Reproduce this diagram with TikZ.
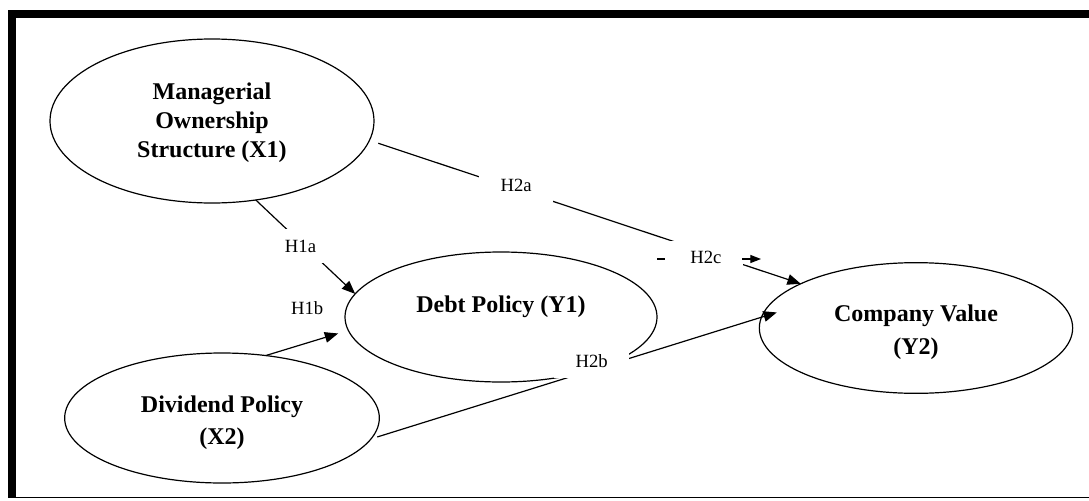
\documentclass[tikz,border=0pt]{standalone}
\usepackage{fontspec}
\setmainfont{Liberation Serif}
\usetikzlibrary{shapes.geometric}
\usetikzlibrary{arrows.meta}
\tikzset{ell/.style = {draw, ellipse, inner sep = 0, outer sep = 0}}
\tikzset{ttl/.style = {font = \fontsize{18}{24}\selectfont\bfseries, align = center}}
\tikzset{hyptxt/.style = {font = \fontsize{14}{16}\selectfont}}
\tikzset{hyp/.style = {hyptxt, fill = white, inner xsep = 16pt, inner ysep = 8pt}}
\tikzset{arr/.style = {-{Triangle[length = 10pt, width = 8pt]}}}
\tikzset{every picture/.style={
    every path/.style={line width = 0.9pt},
}}

\begin{document}
\begin{tikzpicture}[x = 0.75pt, y = -0.75pt]
      \useasboundingbox (0,0) rectangle (1089,500);
      % frame
      \fill (8,10) rectangle (1089,18);
      \fill (8,10) rectangle (16,498);
      \draw (8,497.5) -- (1089,497.5);
      % variables
      \node[ell, minimum width = 243pt, minimum height = 123pt, label = {[ttl, font = \fontsize{18}{21.75}\selectfont\bfseries, yshift = -1.5pt]center:Managerial\\ Ownership\\ Structure (X1)}] (X1) at (212,121) {};
      \node[ell, minimum width = 234pt, minimum height = 97.5pt, label = {[ttl, yshift = 7.5pt]center:Debt Policy (Y1)}] (Y1) at (501,317) {};
      \node[ell, minimum width = 236pt, minimum height = 97.5pt, label = {[ttl, yshift = -3.5pt]center:Dividend Policy\\ (X2)}] (X2) at (222,418) {};
      \node[ell, minimum width = 235pt, minimum height = 98pt, label = {[ttl, font = \fontsize{18}{24.75}\selectfont\bfseries, yshift = -3.5pt]center:Company Value\\ (Y2)}] (Y2) at (916,328) {};
      % hypotheses
      \draw[arr] (X1.-61) -- node[hyp, pos = .45, yshift = -3pt] (h1a) {H1a} (Y1.171);
      \draw[arr, shorten >= 8pt] (X2.55) -- node[hyptxt, pos = .55, xshift = -3pt, yshift = 25pt] (h1b) {H1b} (Y1.-175.5);
      \draw[arr, shorten <= 7pt] (X1.-7) -- node[hyp, pos = .34, yshift = 3pt] (h2a) {H2a} node[hyp, pos = .78, yshift = -4pt] (h2c) {H2c} (Y2.159);
      \draw[arr, shorten <= 5pt, shorten >= -12pt] (X2.-8) -- node[hyp, pos = .565, yshift = 7pt] (h2b) {H2b} (Y2.176);
      % marks beside H2c
      \coordinate (d1) at (657,259);
      \coordinate (d2) at (665,259);
      \draw (d1) -- (d2);
      \coordinate (s1) at (742,259);
      \coordinate (s2) at (761,259);
      \draw[-{Triangle[length = 8pt, width = 6pt]}] (s1) -- (s2);
\end{tikzpicture}
\end{document}
